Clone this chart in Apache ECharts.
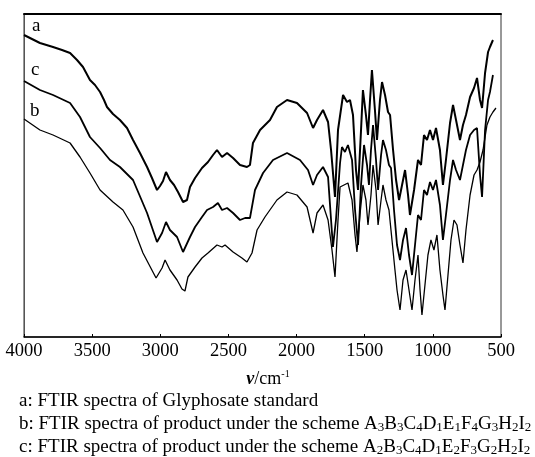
<!DOCTYPE html>
<html>
<head>
<meta charset="utf-8">
<script src="https://cdn.jsdelivr.net/npm/echarts@6/dist/echarts.min.js"></script>
<style>
  html, body { margin: 0; padding: 0; background: #fff; }
  #chart { width: 535px; height: 457px; }
</style>
</head>
<body>
<div id="chart"></div>
<script>
// wavenumber ticks
var xTicks = [4000, 3500, 3000, 2500, 2000, 1500, 1000, 500];

// [wavenumber cm-1, transmittance (a.u., curves are offset)]
var curveA = [
  [4000,302],[3883,294],[3787,290],[3721,287],[3662,284],[3611,277],[3567,270],[3516,257],[3479,252],[3442,245],
  [3413,237],[3391,230],[3347,223],[3296,217],[3244,209],[3200,197],[3149,184],[3097,170],[3061,159],[3024,147],
  [3002,151],[2980,156],[2958,165],[2929,157],[2899,152],[2870,145],[2833,135],[2804,137],[2782,150],[2745,159],
  [2694,169],[2650,175],[2613,182],[2584,187],[2547,180],[2510,184],[2466,179],[2415,172],[2364,170],[2342,172],
  [2320,194],[2268,207],[2195,217],[2144,230],[2070,237],[1997,234],[1923,224],[1879,209],[1850,217],[1806,227],
  [1769,215],[1747,187],[1718,140],[1696,207],[1659,242],[1630,235],[1608,237],[1586,222],[1564,167],[1549,147],
  [1527,207],[1513,247],[1491,222],[1476,202],[1461,237],[1447,267],[1425,227],[1410,197],[1388,237],[1373,255],
  [1351,242],[1329,225],[1314,222],[1292,187],[1270,157],[1248,137],[1226,152],[1204,167],[1182,142],[1168,122],
  [1138,147],[1109,177],[1087,172],[1065,202],[1043,197],[1021,207],[999,197],[977,209],[948,187],[926,152],
  [904,177],[874,214],[852,232],[830,217],[801,197],[779,212],[757,222],[727,240],[698,249],[676,259],
  [654,237],[639,229],[617,264],[595,285],[581,290],[559,297]
];

var curveC = [
  [4000,256],[3883,247],[3787,242],[3662,234],[3589,220],[3516,200],[3442,189],[3369,177],[3296,170],[3200,157],
  [3097,124],[3024,95],[2987,104],[2958,115],[2929,107],[2877,100],[2833,85],[2819,85],[2782,100],[2745,110],
  [2694,120],[2657,127],[2613,130],[2577,134],[2547,127],[2510,129],[2466,124],[2415,117],[2378,119],[2342,119],
  [2305,147],[2246,164],[2173,177],[2070,184],[1975,177],[1916,167],[1879,152],[1850,162],[1806,170],[1769,160],
  [1733,90],[1711,117],[1681,174],[1667,190],[1645,185],[1623,192],[1593,177],[1571,127],[1549,92],[1527,152],
  [1505,192],[1483,172],[1469,152],[1454,187],[1439,212],[1417,177],[1402,147],[1380,182],[1366,197],[1344,187],
  [1322,172],[1307,169],[1285,127],[1263,92],[1241,77],[1219,97],[1197,109],[1175,82],[1153,62],[1131,92],
  [1109,122],[1087,117],[1065,147],[1043,142],[1021,155],[999,147],[977,157],[948,132],[926,97],[904,122],
  [874,157],[852,177],[830,167],[801,157],[779,172],[757,187],[727,202],[698,207],[676,209],[654,162],
  [639,140],[617,207],[595,237],[581,245],[559,262]
];

var curveB = [
  [4000,218],[3883,207],[3787,202],[3662,194],[3589,180],[3516,164],[3442,147],[3347,135],[3274,127],[3200,110],
  [3127,84],[3031,59],[2987,69],[2965,77],[2929,67],[2877,57],[2841,48],[2819,46],[2797,60],[2745,70],
  [2694,79],[2650,84],[2584,92],[2547,90],[2525,92],[2466,85],[2401,79],[2364,75],[2327,84],[2290,107],
  [2232,120],[2144,137],[2070,145],[1997,142],[1923,130],[1879,104],[1850,124],[1806,132],[1769,117],[1740,87],
  [1718,60],[1696,117],[1681,150],[1652,152],[1623,154],[1593,137],[1571,102],[1557,85],[1535,122],[1513,152],
  [1491,137],[1476,112],[1454,142],[1439,172],[1417,147],[1402,112],[1380,137],[1366,152],[1344,137],[1322,127],
  [1300,97],[1278,67],[1263,47],[1241,27],[1219,57],[1197,67],[1175,47],[1153,27],[1131,57],[1109,82],
  [1094,47],[1080,22],[1058,52],[1036,82],[1014,97],[992,87],[970,102],[948,67],[926,42],[911,27],
  [889,62],[867,97],[845,117],[823,112],[801,92],[779,74],[757,107],[727,142],[698,162],[676,167],
  [654,175],[632,187],[603,212],[581,220],[559,225],[537,229]
];

var curveNames = ['a', 'c', 'b'];
var captions = [
  'a: FTIR spectra of Glyphosate standard',
  'b: FTIR spectra of product under the scheme A{s|3}B{s|3}C{s|4}D{s|1}E{s|1}F{s|4}G{s|3}H{s|2}I{s|2}',
  'c: FTIR spectra of product under the scheme A{s|2}B{s|3}C{s|4}D{s|1}E{s|2}F{s|3}G{s|2}H{s|2}I{s|2}'
];

var serif = '"Liberation Serif", "DejaVu Serif", serif';
var myChart = echarts.init(document.getElementById('chart'));

var option = {
  animation: false,
  backgroundColor: '#fff',
  grid: { left: 24, right: 34, top: 14, bottom: 120, show: true, borderColor: '#333', borderWidth: 1 },
  xAxis: [{
    type: 'value',
    inverse: true,
    min: 500,
    max: 4000,
    interval: 500,
    axisLine: { show: true, lineStyle: { color: '#000', width: 1.5 } },
    axisTick: { show: true, inside: true, length: 3, lineStyle: { color: '#000' } },
    axisLabel: {
      color: '#000', fontFamily: serif, fontSize: 18.5, margin: 5,
      formatter: function (v) { return xTicks.indexOf(v) >= 0 ? String(v) : ''; }
    },
    splitLine: { show: false }
  }, {
    type: 'value',
    position: 'top',
    inverse: true,
    min: 500,
    max: 4000,
    axisLine: { show: true, lineStyle: { color: '#000', width: 2 } },
    axisTick: { show: false },
    axisLabel: { show: false },
    splitLine: { show: false }
  }],
  yAxis: {
    type: 'value',
    min: 0,
    max: 323,
    axisLine: { show: true, lineStyle: { color: '#555', width: 1 } },
    axisTick: { show: false },
    axisLabel: { show: false },
    splitLine: { show: false }
  },
  series: [
    { name: 'a', type: 'line', data: curveA, showSymbol: false, lineStyle: { color: '#000', width: 2 } },
    { name: 'c', type: 'line', data: curveC, showSymbol: false, lineStyle: { color: '#000', width: 1.8 } },
    { name: 'b', type: 'line', data: curveB, showSymbol: false, lineStyle: { color: '#000', width: 1.3 } }
  ],
  graphic: [
    { type: 'text', left: 32, top: 17, style: { text: curveNames[0], font: '19px ' + serif, fill: '#000' } },
    { type: 'text', left: 31, top: 61, style: { text: curveNames[1], font: '19px ' + serif, fill: '#000' } },
    { type: 'text', left: 30, top: 102, style: { text: curveNames[2], font: '19px ' + serif, fill: '#000' } },
    {
      type: 'text', x: 268, y: 379,
      style: {
        text: '{n|ν}/cm{p|-1}', align: 'center', verticalAlign: 'middle', fill: '#000',
        rich: {
          n: { fontFamily: serif, fontSize: 18, fontWeight: 'bold', fontStyle: 'italic', lineHeight: 20 },
          p: { fontFamily: serif, fontSize: 10, verticalAlign: 'top', lineHeight: 10 }
        },
        fontFamily: serif, fontSize: 18, lineHeight: 20
      }
    }
  ].concat(captions.map(function (t, i) {
    return {
      type: 'text', x: 19, y: 401 + i * 23,
      style: {
        text: t, verticalAlign: 'middle', fill: '#000',
        fontFamily: serif, fontSize: 19, lineHeight: 20,
        rich: { s: { fontFamily: serif, fontSize: 13, lineHeight: 13, verticalAlign: 'bottom' } }
      }
    };
  }))
};

window.onresize = myChart.resize;
myChart.setOption(option);
</script>
</body>
</html>
